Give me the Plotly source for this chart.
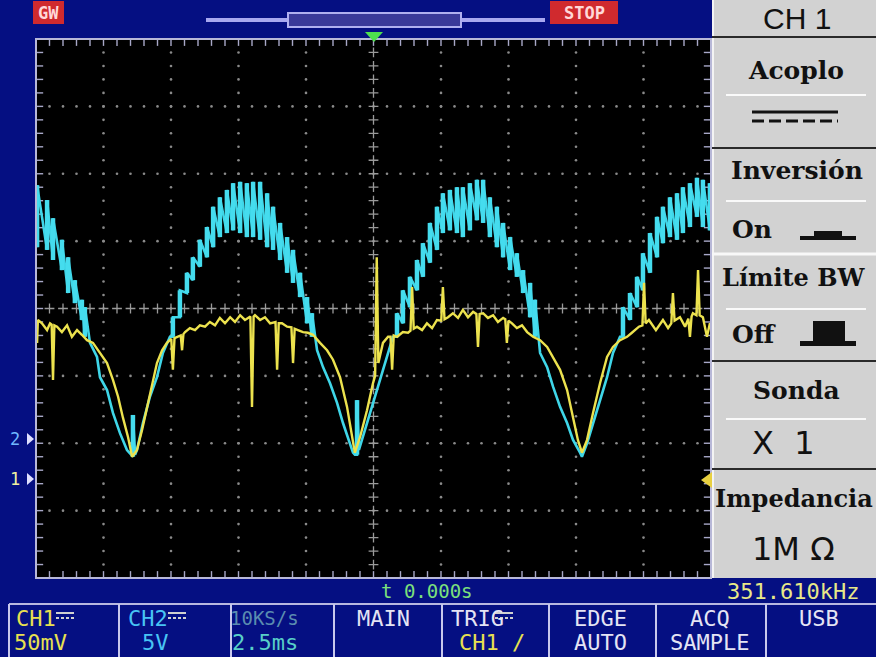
import plotly.graph_objects as go

W, H = 876, 657

# ----------------------------------------------------
# CH2 (cyan): time in ms, level in divisions.
# Ripple strokes stored as (upper, lower); smooth parts have upper == lower
# ----------------------------------------------------
ch2_t = [-12.46, -12.09, -11.87, -11.54, -11.31, -11.06, -10.80, -10.69,
         -10.50, -10.24, -10.13, -9.87, -9.65, -9.39, -9.13, -8.94, -8.91, -8.83,
         -8.76, -8.54, -8.28, -8.02, -7.80, -7.54,
         -7.43, -7.17, -6.91, -6.69, -6.43, -6.17, -5.94, -5.69, -5.43, -5.20, -4.94,
         -4.69, -4.46, -4.20, -3.94, -3.72, -3.46, -3.20, -2.98, -2.72, -2.46, -2.28,
         -2.09, -1.87, -1.61, -1.35, -1.13, -0.87, -0.76, -0.69, -0.61, -0.54,
         -0.24, -0.02, 0.24, 0.50, 0.72,
         0.87, 1.09, 1.35, 1.61, 1.83, 2.09, 2.35, 2.57, 2.83, 3.09, 3.31, 3.57,
         3.83, 4.06, 4.31, 4.57, 4.80, 5.06, 5.31, 5.54, 5.80, 5.98,
         6.17, 6.43, 6.65, 6.91, 7.17, 7.39, 7.65, 7.72,
         7.91, 8.13, 8.39, 8.65, 8.87, 9.13,
         9.24, 9.50, 9.76, 9.98, 10.24, 10.50, 10.72, 10.98, 11.24, 11.46, 11.72,
         11.98, 12.20, 12.46]

ch2_hi = [1.83, 1.61, 1.34, 1.02, 0.76, 0.42, 0.13, 0.02,
          -0.51, -0.72, -1.02, -1.21, -1.55, -1.85, -2.10, -2.20, -1.58, -2.17,
          -2.10, -1.70, -1.31, -1.02, -0.66, -0.42,
          -0.13, 0.27, 0.53, 0.76, 1.02, 1.21, 1.51, 1.65, 1.76, 1.86, 1.88,
          1.86, 1.88, 1.88, 1.71, 1.51, 1.27, 1.06, 0.87, 0.53, 0.17, -0.07,
          -0.62, -0.87, -1.11, -1.40, -1.70, -2.00, -2.14, -2.17, -1.36, -2.10,
          -1.70, -1.40, -1.06, -0.72, -0.42,
          -0.07, 0.27, 0.47, 0.72, 0.97, 1.27, 1.51, 1.71, 1.76, 1.80, 1.80, 1.86,
          1.91, 1.91, 1.65, 1.51, 1.27, 1.06, 0.82, 0.57, 0.38, 0.13,
          -0.66, -0.87, -1.16, -1.46, -1.70, -1.95, -2.14, -2.20,
          -2.00, -1.70, -1.36, -1.02, -0.66, -0.42,
          0.02, 0.23, 0.47, 0.82, 1.12, 1.36, 1.51, 1.65, 1.71, 1.80, 1.86,
          1.94, 1.91, 1.86]

ch2_lo = [0.91, 0.87, 0.72, 0.57, 0.23, 0.08, -0.17, -0.42,
          -0.51, -0.72, -1.02, -1.21, -1.55, -1.85, -2.10, -2.20, -2.20, -2.17,
          -2.10, -1.70, -1.31, -1.02, -0.66, -0.42,
          -0.42, -0.13, 0.23, 0.42, 0.62, 0.76, 0.91, 1.06, 1.12, 1.16, 1.12,
          1.06, 1.06, 1.02, 0.91, 0.87, 0.72, 0.53, 0.38, 0.17, -0.22, -0.42,
          -0.62, -0.87, -1.11, -1.40, -1.70, -2.00, -2.14, -2.17, -2.17, -2.10,
          -1.70, -1.40, -1.06, -0.72, -0.42,
          -0.42, -0.22, 0.02, 0.27, 0.47, 0.68, 0.87, 1.12, 1.16, 1.12, 1.06, 1.16,
          1.31, 1.27, 1.06, 0.91, 0.76, 0.57, 0.47, 0.23, -0.13, -0.42,
          -0.66, -0.87, -1.16, -1.46, -1.70, -1.95, -2.14, -2.20,
          -2.00, -1.70, -1.36, -1.02, -0.66, -0.42,
          -0.42, -0.17, 0.02, 0.27, 0.53, 0.76, 0.97, 1.06, 1.02, 1.12, 1.21,
          1.36, 1.21, 1.16]

# ----------------------------------------------------
# CH1 (yellow): time in ms, level in divisions
# ----------------------------------------------------
ch1_t = [-12.50, -12.46, -12.43, -12.28, -12.09, -11.98, -11.92, -11.87, -11.82, -11.72,
         -11.54, -11.35, -11.17, -10.98, -10.80, -10.61, -10.39, -10.13, -9.87, -9.65,
         -9.46, -9.28, -9.09, -8.94, -8.76, -8.57, -8.39, -8.20, -8.02, -7.83,
         -7.65, -7.49, -7.43, -7.37, -7.28, -7.14, -7.09, -7.04, -6.98, -6.80,
         -6.61, -6.43, -6.24, -6.06, -5.87, -5.69, -5.50, -5.31, -5.13, -4.94,
         -4.76, -4.56, -4.50, -4.44, -4.39, -4.20, -4.02, -3.83, -3.63, -3.57,
         -3.51, -3.39, -3.20, -3.04, -2.98, -2.92, -2.80, -2.61, -2.43, -2.24,
         -1.98, -1.72, -1.50, -1.24, -0.98, -0.80, -0.69, -0.50, -0.24, -0.02,
         0.06, 0.12, 0.18, 0.35, 0.54, 0.63, 0.69, 0.75, 0.87, 1.09,
         1.28, 1.37, 1.43, 1.49, 1.61, 1.80, 1.98, 2.17, 2.35, 2.51,
         2.57, 2.63, 2.76, 2.94, 3.13, 3.31, 3.50, 3.69, 3.81, 3.87,
         3.93, 4.06, 4.24, 4.43, 4.61, 4.80, 4.88, 4.94, 5.00, 5.13,
         5.31, 5.50, 5.69, 5.91, 6.17, 6.43, 6.65, 6.91, 7.17, 7.39,
         7.57, 7.72, 7.91, 8.13, 8.39, 8.65, 8.87, 9.13, 9.39, 9.57,
         9.83, 9.96, 10.02, 10.08, 10.20, 10.46, 10.72, 10.91, 11.03, 11.09,
         11.15, 11.35, 11.54, 11.66, 11.72, 11.78, 11.83, 11.96, 12.02, 12.08,
         12.20, 12.35, 12.46, 12.50]

ch1_v = [-0.17, -0.51, -0.17, -0.22, -0.32, -0.22, -0.24, -1.06, -0.25, -0.27,
         -0.35, -0.25, -0.42, -0.32, -0.39, -0.47, -0.51, -0.66, -0.81, -1.06,
         -1.31, -1.62, -1.91, -2.20, -2.10, -1.80, -1.46, -1.11, -0.81, -0.62,
         -0.51, -0.45, -0.91, -0.44, -0.42, -0.40, -0.62, -0.38, -0.35, -0.29,
         -0.32, -0.25, -0.27, -0.20, -0.25, -0.14, -0.22, -0.13, -0.20, -0.10,
         -0.17, -0.12, -1.46, -0.12, -0.10, -0.17, -0.13, -0.22, -0.20, -0.91,
         -0.22, -0.22, -0.27, -0.28, -0.81, -0.30, -0.32, -0.35, -0.36, -0.39,
         -0.51, -0.62, -0.76, -1.02, -1.46, -1.91, -2.14, -1.91, -1.51, -1.11,
         -1.00, 0.76, -0.81, -0.51, -0.42, -0.42, -0.91, -0.40, -0.42, -0.35,
         -0.36, -0.33, 0.32, -0.30, -0.27, -0.32, -0.22, -0.29, -0.17, -0.18,
         0.32, -0.16, -0.13, -0.07, -0.14, -0.02, -0.13, -0.05, -0.08, -0.57,
         -0.08, -0.07, -0.14, -0.10, -0.20, -0.14, -0.16, -0.51, -0.18, -0.22,
         -0.29, -0.25, -0.35, -0.42, -0.47, -0.57, -0.72, -0.91, -1.21, -1.62,
         -1.95, -2.14, -1.95, -1.55, -1.11, -0.72, -0.57, -0.47, -0.42, -0.36,
         -0.27, -0.25, 0.38, -0.22, -0.17, -0.32, -0.17, -0.29, -0.22, 0.23,
         -0.18, -0.13, -0.27, -0.15, -0.42, -0.12, -0.07, -0.10, 0.57, -0.10,
         -0.13, -0.42, -0.22, -0.25]


def X(p):
    return p / W


def Y(p):
    return 1 - p / H


fig = go.Figure()

# ----------------------------------------------------
# Graticule
# ----------------------------------------------------
dot_x, dot_y = [], []
for k in range(1, 10):
    if k == 5:
        continue
    for j in range(1, 40):
        dot_x.append(-12.5 + 2.5 * k)
        dot_y.append(-4 + 0.2 * j)
for m in range(1, 8):
    if m == 4:
        continue
    for i in range(1, 50):
        dot_x.append(-12.5 + 0.5 * i)
        dot_y.append(-4 + m)

fig.add_trace(go.Scatter(x=dot_x, y=dot_y, mode="markers", hoverinfo="skip",
                         marker=dict(size=2.6, color="#8a8a8a", line_width=0)))

cross_x = [0] * 39 + [-12.5 + 0.5 * i for i in range(1, 50)]
cross_y = [-4 + 0.2 * j for j in range(1, 40)] + [0] * 49
fig.add_trace(go.Scatter(x=cross_x, y=cross_y, mode="markers", hoverinfo="skip",
                         marker=dict(symbol="cross-thin", size=7,
                                     line=dict(width=1.3, color="#9a9a9a"))))

tick_t = [-12.5 + 0.5 * i for i in range(1, 50)]
tick_v = [-4 + 0.2 * j for j in range(1, 40)]
fig.add_trace(go.Scatter(x=tick_t + tick_t, y=[3.96] * 49 + [-3.96] * 49,
                         mode="markers", hoverinfo="skip",
                         marker=dict(symbol="line-ns", size=6,
                                     line=dict(width=1.4, color="#a8a8c8"))))
fig.add_trace(go.Scatter(x=[-12.39] * 39 + [12.39] * 39, y=tick_v + tick_v,
                         mode="markers", hoverinfo="skip",
                         marker=dict(symbol="line-ew", size=6,
                                     line=dict(width=1.4, color="#a8a8c8"))))

# ----------------------------------------------------
# Waveforms
# ----------------------------------------------------
cx, cy = [], []
sx, sy = [], []
for t, hi, lo in zip(ch2_t, ch2_hi, ch2_lo):
    cx += [t, t]
    cy += [lo, hi]
    if hi != lo:
        sx += [t, t, None]
        sy += [lo, hi, None]
fig.add_trace(go.Scatter(x=cx, y=cy, mode="lines", hoverinfo="skip",
                         line=dict(color="#3fd6e8", width=2.6)))
# ripple strokes are brighter and wider on the screen
fig.add_trace(go.Scatter(x=sx, y=sy, mode="lines", hoverinfo="skip",
                         line=dict(color="#45dcee", width=4.5)))

fig.add_trace(go.Scatter(x=ch1_t, y=ch1_v, mode="lines", hoverinfo="skip",
                         line=dict(color="#ece24e", width=2.4)))

# ----------------------------------------------------
# Decorations (screen frame, side menu, status bar)
# ----------------------------------------------------
shapes = []


def rect(x0, y0, x1, y1, fill=None, line=None, lw=0):
    shapes.append(dict(type="rect", xref="paper", yref="paper",
                       x0=X(x0), x1=X(x1), y0=Y(y1), y1=Y(y0),
                       fillcolor=fill, line=dict(color=line, width=lw), layer="above"))


def hline(x0, x1, y, color, lw=2, dash=None):
    shapes.append(dict(type="line", xref="paper", yref="paper",
                       x0=X(x0), x1=X(x1), y0=Y(y), y1=Y(y),
                       line=dict(color=color, width=lw, dash=dash)))


def vline(x, y0, y1, color, lw=2):
    shapes.append(dict(type="line", xref="paper", yref="paper",
                       x0=X(x), x1=X(x), y0=Y(y0), y1=Y(y1),
                       line=dict(color=color, width=lw)))


def tri(pts, color):
    path = "M " + " L ".join(f"{X(a):.5f},{Y(b):.5f}" for a, b in pts) + " Z"
    shapes.append(dict(type="path", xref="paper", yref="paper", path=path,
                       fillcolor=color, line=dict(width=0)))


# screen border
rect(36, 39, 711, 578, line="#b8b8d8", lw=2)

# top bar
hline(206, 545, 20, "#a8a8f0", lw=4)
rect(288, 13, 461, 27, fill="#3a3a9a", line="#b0b0f0", lw=2)
rect(33, 1, 64, 24, fill="#d02a2e")
rect(550, 1, 618, 24, fill="#d02a2e")
tri([(365, 32), (383, 32), (374, 42)], "#4ee04e")

# channel ground markers and trigger level marker
tri([(27, 433), (34, 439), (27, 445)], "#e0e0ff")
tri([(27, 473), (34, 479), (27, 485)], "#e0e0ff")

# side menu
rect(712, 0, 876, 578, fill="#d2d2d2")
vline(713, 0, 578, "#f4f4f4", lw=2)
for yy in [37, 148, 361, 469]:
    hline(712, 876, yy, "#2a2a2a", lw=2)
hline(712, 876, 254, "#f8f8f8", lw=3)
for yy in [95, 201, 309, 419]:
    hline(726, 866, yy, "#fafafa", lw=2)
# coupling symbol
hline(752, 838, 112, "#111111", lw=3)
hline(752, 838, 121, "#111111", lw=3, dash="12px,5px")
# inversion symbol
rect(800, 236, 856, 240, fill="#111111")
rect(814, 231, 842, 240, fill="#111111")
# bandwidth limit symbol
rect(800, 341, 856, 346, fill="#111111")
rect(813, 321, 845, 346, fill="#111111")
tri([(701, 480), (712, 472), (712, 488)], "#e8d040")

# bottom menu boxes
hline(9, 876, 604, "#b8b8e0", lw=2)
for xx in [9, 119, 231, 334, 442, 549, 656, 766]:
    vline(xx, 604, 657, "#c8c8ec", lw=2)
for x0 in [56, 168, 495]:
    hline(x0, x0 + 18, 613, "#d0d0d0", lw=2)
    hline(x0, x0 + 18, 618, "#d0d0d0", lw=2, dash="3px,2px")

fig.update_layout(shapes=shapes)


def txt(s, x, y, size, color, family="DejaVu Sans Mono", bold=False, anchor="center"):
    fig.add_annotation(text=s, x=X(x), y=Y(y), xref="paper", yref="paper",
                       showarrow=False, xanchor=anchor, yanchor="middle",
                       font=dict(size=size, color=color, family=family,
                                 weight="bold" if bold else "normal"))


mono = "DejaVu Sans Mono"
serif = "DejaVu Serif"
sans = "DejaVu Sans"

txt("GW", 48, 13, 17, "#ffd8d8", mono, bold=True)
txt("STOP", 584, 13, 17, "#ffd8d8", mono, bold=True)
txt("2", 15, 439, 17, "#70b8ff", mono)
txt("1", 15, 479, 17, "#f0f0a0", mono)

txt("CH 1", 797, 18, 30, "#111111", "Liberation Sans Narrow, Liberation Sans")
txt("Acoplo", 796, 70, 25, "#111111", serif, bold=True)
txt("Inversión", 797, 170, 25, "#111111", serif, bold=True)
txt("On", 752, 229, 25, "#111111", serif, bold=True)
txt("Límite BW", 794, 277, 24, "#111111", serif, bold=True)
txt("Off", 754, 334, 25, "#111111", serif, bold=True)
txt("Sonda", 796, 390, 25, "#111111", serif, bold=True)
txt("X  1", 783, 443, 32, "#111111", sans)
txt("Impedancia", 794, 498, 24, "#111111", serif, bold=True)
txt("1M Ω", 793, 549, 32, "#111111", sans)

txt("t 0.000s", 427, 591, 19, "#7ce07c", mono)
txt("351.610kHz", 793, 591, 22, "#e8e888", mono)

txt("CH1", 14, 618, 22, "#e8e050", mono, anchor="left")
txt("50mV", 40, 642, 22, "#e8e050", mono)
txt("CH2", 126, 618, 22, "#48c4f4", mono, anchor="left")
txt("5V", 155, 642, 22, "#48c4f4", mono)
txt("10KS/s", 264, 618, 19, "#5a8cb0", mono)
txt("2.5ms", 265, 642, 22, "#58d0c8", mono)
txt("MAIN", 383, 618, 22, "#e4e4f4", mono)
txt("TRIG", 449, 618, 22, "#e4e4f4", mono, anchor="left")
txt("CH1 /", 492, 642, 22, "#e8e050", mono)
txt("EDGE", 600, 618, 22, "#e4e4f4", mono)
txt("AUTO", 600, 642, 22, "#e4e4f4", mono)
txt("ACQ", 710, 618, 22, "#e4e4f4", mono)
txt("SAMPLE", 709, 642, 22, "#e4e4f4", mono)
txt("USB", 819, 618, 22, "#e4e4f4", mono)

fig.update_layout(
    width=W,
    height=H,
    margin=dict(l=0, r=0, t=0, b=0),
    paper_bgcolor="#050f82",
    plot_bgcolor="#000000",
    showlegend=False,
    xaxis=dict(domain=[36 / W, 711 / W], range=[-12.5, 12.5], visible=False),
    yaxis=dict(domain=[1 - 578 / H, 1 - 39 / H], range=[-4, 4], visible=False),
)

# the page body has a default 8px margin; remove it so the figure fills the window
fig.write_html("out.html", config={"displayModeBar": False},
               post_script="document.body.style.margin='0';")
